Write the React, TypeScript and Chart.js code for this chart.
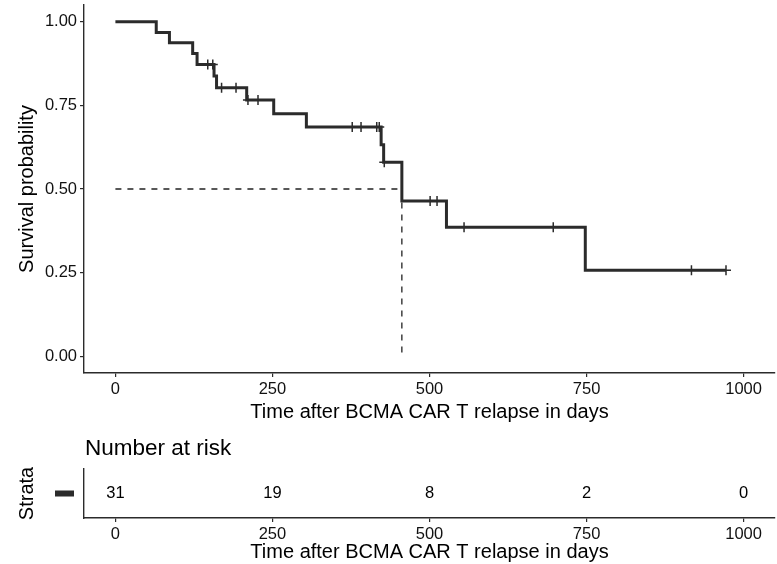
import React, { useEffect, useRef } from "react";
import { Chart, registerables } from "chart.js";

Chart.register(...registerables);

// ---- data ----
const eventTimes = [0, 65, 86, 123, 130, 157, 161, 209, 252, 304, 423, 427, 456, 527, 748];
const survProb = [1.0, 0.968, 0.937, 0.905, 0.872, 0.838, 0.803, 0.766, 0.725, 0.685, 0.632, 0.58, 0.464, 0.386, 0.257];
const censorTimes = [147, 155, 169, 192, 211, 227, 377, 391, 416, 420, 428, 501, 512, 555, 697, 917, 972];
const lastTime = 972;
const medianTime = 456;
const medianProb = 0.5;
const xTicks = [0, 250, 500, 750, 1000];
const yTicks = [0, 0.25, 0.5, 0.75, 1.0];
const riskTimes = [0, 250, 500, 750, 1000];
const riskCounts = [31, 19, 8, 2, 0];

const FONT = "'Liberation Sans', Arial, Helvetica, sans-serif";
const INK = "#2b2b2b";

function survAt(t: number): number {
  let s = survProb[0];
  for (let i = 0; i < eventTimes.length; i++) {
    if (eventTimes[i] <= t) s = survProb[i];
  }
  return s;
}

const W = 777;
const H1 = 430;
const H2 = 134;

function noScalePadding(scale: any) {
  scale.paddingTop = 0;
  scale.paddingBottom = 0;
  scale.paddingLeft = 0;
  scale.paddingRight = 0;
}

export default function App() {
  const mainRef = useRef<HTMLCanvasElement | null>(null);
  const riskRef = useRef<HTMLCanvasElement | null>(null);

  useEffect(() => {
    const curve = eventTimes.map((t, i) => ({ x: t, y: survProb[i] }));
    curve.push({ x: lastTime, y: survAt(lastTime) });
    const censors = censorTimes.map((t) => ({ x: t, y: survAt(t) }));
    const median = [
      { x: 0, y: medianProb },
      { x: medianTime, y: medianProb },
      { x: medianTime, y: 0 },
    ];

    const xScaleBase = (height: number, titlePadBottom: number) => ({
      type: "linear" as const,
      min: -50,
      max: 1050,
      afterBuildTicks: (axis: any) => {
        axis.ticks = xTicks.map((v) => ({ value: v }));
      },
      afterFit: (scale: any) => {
        scale.height = height;
        noScalePadding(scale);
      },
      ticks: {
        color: "#111",
        font: { family: FONT, size: 16.5 },
        padding: 3,
        maxRotation: 0,
        autoSkip: false,
        callback: (v: any) => String(v),
      },
      grid: {
        display: true,
        drawOnChartArea: false,
        drawTicks: true,
        tickLength: 4,
        color: INK,
        lineWidth: 1.2,
      },
      border: { display: true, color: INK, width: 1.4 },
      title: {
        display: true,
        text: "Time after BCMA CAR T relapse in days",
        color: "#000",
        font: { family: FONT, size: 20 },
        padding: { top: 0, bottom: titlePadBottom },
      },
    });

    const main = new Chart(mainRef.current!, {
      type: "line",
      data: {
        datasets: [
          {
            data: curve,
            stepped: "before",
            borderColor: INK,
            borderWidth: 3,
            pointRadius: 0,
            fill: false,
          },
          {
            type: "scatter",
            data: censors,
            pointStyle: "cross",
            pointRadius: 5,
            pointBorderWidth: 1.5,
            borderColor: INK,
            backgroundColor: INK,
            showLine: false,
          } as any,
          {
            data: median,
            borderColor: "#222",
            borderWidth: 1.3,
            borderDash: [6, 6],
            pointRadius: 0,
            fill: false,
          },
        ],
      },
      options: {
        responsive: false,
        animation: false,
        events: [],
        layout: { autoPadding: false, padding: { left: 0, right: 2, top: 5, bottom: 0 } },
        plugins: { legend: { display: false }, tooltip: { enabled: false } },
        scales: {
          x: xScaleBase(H1 - 373, 6) as any,
          y: {
            type: "linear",
            min: -0.05,
            max: 1.05,
            afterBuildTicks: (axis: any) => {
              axis.ticks = yTicks.map((v) => ({ value: v }));
            },
            afterFit: (scale: any) => {
              scale.width = 84;
              noScalePadding(scale);
            },
            ticks: {
              color: "#111",
              font: { family: FONT, size: 16.5 },
              padding: 3,
              callback: (v: any) => Number(v).toFixed(2),
            },
            grid: {
              display: true,
              drawOnChartArea: false,
              drawTicks: true,
              tickLength: 4,
              color: INK,
              lineWidth: 1.2,
            },
            border: { display: true, color: INK, width: 1.4 },
            title: {
              display: true,
              text: "Survival probability",
              color: "#000",
              font: { family: FONT, size: 20 },
              padding: { top: 15, bottom: 0 },
            },
          },
        },
      },
    });

    const riskPlugin = {
      id: "riskText",
      afterDraw(chart: any) {
        const { ctx, chartArea, scales } = chart;
        const cy = (chartArea.top + chartArea.bottom) / 2;
        ctx.save();
        ctx.fillStyle = "#000";
        ctx.font = `16.5px ${FONT}`;
        ctx.textAlign = "center";
        ctx.textBaseline = "middle";
        riskTimes.forEach((t, i) => {
          ctx.fillText(String(riskCounts[i]), scales.x.getPixelForValue(t), cy);
        });
        ctx.fillStyle = INK;
        ctx.fillRect(chartArea.left - 29, cy - 3, 19, 6);
        ctx.fillStyle = "#000";
        ctx.font = `22.5px ${FONT}`;
        ctx.textAlign = "left";
        ctx.textBaseline = "middle";
        ctx.fillText("Number at risk", chartArea.left + 1, 19);
        ctx.restore();
      },
    };

    const risk = new Chart(riskRef.current!, {
      type: "scatter",
      data: { datasets: [{ data: [], pointRadius: 0 }] },
      options: {
        responsive: false,
        animation: false,
        events: [],
        layout: { autoPadding: false, padding: { left: 0, right: 2, top: 39, bottom: 0 } },
        plugins: { legend: { display: false }, tooltip: { enabled: false } },
        scales: {
          x: xScaleBase(H2 - 88, 0) as any,
          y: {
            type: "linear",
            min: 0,
            max: 1,
            afterFit: (scale: any) => {
              scale.width = 84;
              noScalePadding(scale);
            },
            ticks: { display: false },
            grid: { display: false },
            border: { display: true, color: INK, width: 1.4 },
            title: {
              display: true,
              text: "Strata",
              color: "#000",
              font: { family: FONT, size: 20 },
              padding: { top: 15, bottom: 0 },
            },
          },
        },
      },
      plugins: [riskPlugin],
    });

    return () => {
      main.destroy();
      risk.destroy();
    };
  }, []);

  return (
    <div style={{ position: "absolute", left: 0, top: 0, width: W, height: H1 + H2, background: "#fff" }}>
      <canvas ref={mainRef} width={W} height={H1} style={{ display: "block", width: W, height: H1 }} />
      <canvas ref={riskRef} width={W} height={H2} style={{ display: "block", width: W, height: H2 }} />
    </div>
  );
}
